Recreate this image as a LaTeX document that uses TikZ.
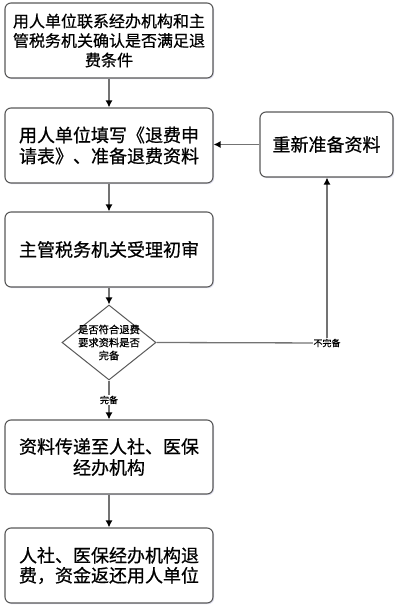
\documentclass[tikz,border=0pt]{standalone}
\usepackage{fontspec}
\newfontfamily\cjk[FakeBold=0.6]{Noto Sans CJK SC}
\usetikzlibrary{shapes.geometric,arrows.meta,shadows}
\begin{document}
\begin{tikzpicture}[x=1pt,y=-1pt,
  box/.style={draw=black!65, line width=1.1pt, rounded corners=6pt, fill=white,
    drop shadow={opacity=0.18, shadow xshift=1.2pt, shadow yshift=-1.2pt, fill=blue!30!gray},
    align=center, inner sep=0pt, font=\cjk},
  conn/.style={draw=black!55, line width=1.3pt, -{Latex[length=7pt,width=7pt,color=black]}},
  plain/.style={draw=black!55, line width=1.3pt},
  lbl/.style={font=\cjk\fontsize{9}{11}\selectfont, fill=white, inner sep=1pt}]
\useasboundingbox (0,0) rectangle (401,612);
\node[box, minimum width=208pt, minimum height=75pt, font=\cjk\fontsize{16}{19.5}\selectfont] (b1) at (109,40.5) {用人单位联系经办机构和主\\管税务机关确认是否满足退\\费条件};
\node[box, minimum width=208pt, minimum height=75pt, font=\cjk\fontsize{18}{21}\selectfont] (b2) at (109,145.5) {用人单位填写《退费申\\请表》、准备退费资料};
\node[box, minimum width=208pt, minimum height=75pt, font=\cjk\fontsize{18}{21}\selectfont] (b3) at (109,249.5) {主管税务机关受理初审};
\node[draw=black!65, line width=1pt, shape=diamond, minimum width=94pt, minimum height=75pt, inner sep=0pt, fill=white] (d) at (109,342.5) {};
\node[align=center, inner sep=0pt, font=\cjk\fontsize{10.3}{13}\selectfont] (dtext) at (d.center) {是否符合退费\\要求资料是否\\完备};
\node[box, minimum width=208pt, minimum height=74pt, font=\cjk\fontsize{18}{21}\selectfont] (b4) at (109,457) {资料传递至人社、医保\\经办机构};
\node[box, minimum width=208pt, minimum height=75pt, font=\cjk\fontsize{18}{20}\selectfont] (b5) at (109,565.5) {人社、医保经办机构退\\费，资金返还用人单位};
\node[box, minimum width=133pt, minimum height=65pt, font=\cjk\fontsize{18}{21}\selectfont] (r) at (326.5,144.5) {重新准备资料};
\coordinate (c) at (327,343);
\draw[conn] (b1) -- (b2);
\draw[conn] (b2) -- (b3);
\draw[conn] (b3) -- (d);
\draw[conn] (d) -- node[lbl, pos=0.5] (yes) {完备} (b4);
\draw[conn] (b4) -- (b5);
\draw[plain] (d.east) -- (c);
\draw[conn] (c) -- (r.south -| c);
\draw[conn] (r.west) -- (b2.east |- r.west);
\node[lbl] (no) at (c) {不完备};
\end{tikzpicture}
\end{document}
